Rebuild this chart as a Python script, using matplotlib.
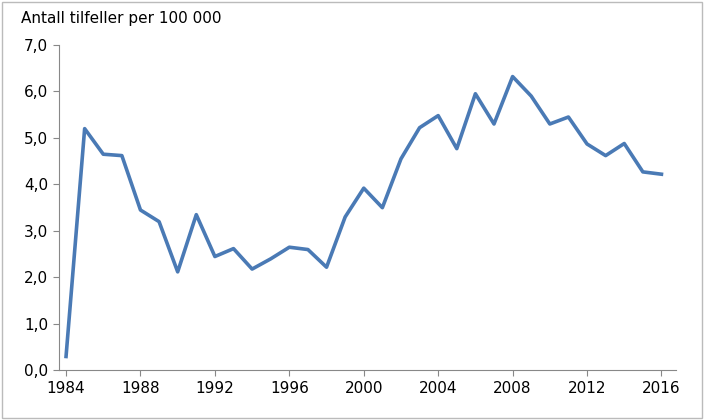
import matplotlib
matplotlib.use("Agg")
import matplotlib.pyplot as plt
from matplotlib.ticker import FuncFormatter
from matplotlib.patches import Rectangle

years = list(range(1984, 2017))
values = [0.3, 5.2, 4.65, 4.62, 3.45, 3.2, 2.12, 3.35, 2.45, 2.62, 2.18, 2.4, 2.65, 2.6, 2.22,
          3.3, 3.92, 3.5, 4.55, 5.22, 5.48, 4.77, 5.95, 5.3, 6.32, 5.9, 5.3, 5.45, 4.87, 4.62,
          4.88, 4.27, 4.22]
xticks = list(range(1984, 2017, 4))

fig = plt.figure(figsize=(7.06, 4.2), dpi=100)
ax = fig.add_axes([0.083, 0.118, 0.875, 0.775])
ax.plot(years, values, color="#4a7ab5", lw=2.6)
ax.set_xlim(1983.6, 2016.8)
ax.set_ylim(0, 7)
ax.set_yticks([i for i in range(8)])
ax.yaxis.set_major_formatter(FuncFormatter(lambda v, p: f"{v:.1f}".replace(".", ",")))
ax.set_xticks(xticks)
for s in ["top", "right"]:
    ax.spines[s].set_visible(False)
for s in ["left", "bottom"]:
    ax.spines[s].set_color("#888888")
ax.tick_params(labelsize=11, color="#888888", length=4)
ax.tick_params(axis="x", direction="out")
fig.text(0.03, 0.945, "Antall tilfeller per 100 000", fontsize=11)
fig.patches.append(Rectangle((0.003, 0.005), 0.992, 0.99, transform=fig.transFigure,
                             fill=False, edgecolor="#bbbbbb", lw=1))
fig.savefig("out.png", dpi=100)
